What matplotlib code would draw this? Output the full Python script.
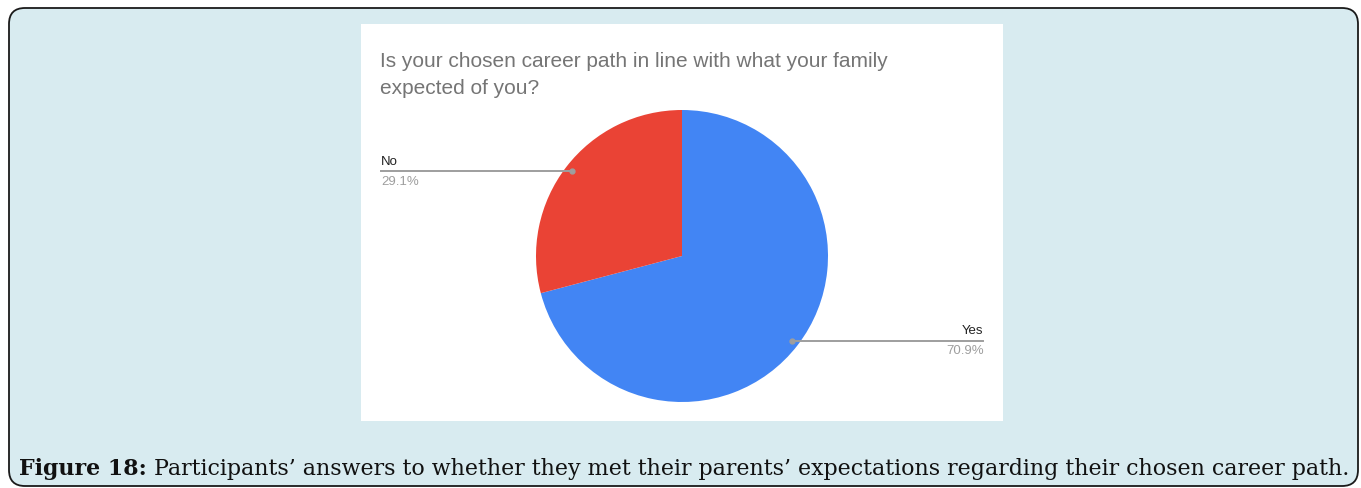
#!/usr/bin/env python
import matplotlib
matplotlib.use("Agg")
import matplotlib.pyplot as plt
import numpy as np
from matplotlib.patches import FancyBboxPatch, Rectangle

# ---- data ----
labels = ["Yes", "No"]
shares = [70.9, 29.1]
slice_colors = ["#4285f4", "#ea4335"]
title_lines = ["Is your chosen career path in line with what your family",
               "expected of you?"]
caption_head = "Figure 18:"
caption_body = " Participants\u2019 answers to whether they met their parents\u2019 expectations regarding their chosen career path."

# ---- layout (pixels) ----
W, H = 1361, 489
bg_blue = "#d8ebf0"
pie_cx, pie_cy, pie_r = 682, 257, 146

fig = plt.figure(figsize=(W / 100, H / 100), dpi=100)
fig.patch.set_facecolor("white")

# full-figure canvas in pixel units
canvas = fig.add_axes([0, 0, 1, 1])
canvas.set_xlim(0, W)
canvas.set_ylim(H, 0)
canvas.axis("off")

canvas.add_patch(FancyBboxPatch((9, 9), 1349, 478, boxstyle="round,pad=0,rounding_size=16",
                                facecolor=bg_blue, edgecolor="#1a1a1a", linewidth=1.3))
canvas.add_patch(Rectangle((361, 25), 642, 397, facecolor="white", edgecolor="none"))

for i, line in enumerate(title_lines):
    canvas.text(380, 67 + 26.5 * i, line, ha="left", va="baseline", fontsize=15,
                color="#757575", family="Liberation Sans")

head = canvas.text(19, 475, caption_head, ha="left", va="baseline", fontsize=15.9,
                   family="DejaVu Serif", fontweight="bold", color="#111111")
canvas.annotate(caption_body, xy=(1, 0), xycoords=head, ha="left", va="bottom",
                fontsize=15.9, family="DejaVu Serif", color="#111111")

# ---- pie ----
ax = fig.add_axes([(pie_cx - pie_r) / W, (H - pie_cy - pie_r) / H, 2 * pie_r / W, 2 * pie_r / H])
wedges, _ = ax.pie(shares, colors=slice_colors, startangle=90, counterclock=False,
                   wedgeprops=dict(linewidth=0))
ax.set_xlim(-1, 1)
ax.set_ylim(-1, 1)
ax.set_aspect("auto")
ax.axis("off")

# leader lines with labels
for w, lab, val in zip(wedges, labels, shares):
    mid = np.deg2rad((w.theta1 + w.theta2) / 2)
    px, py = 0.95 * np.cos(mid), 0.95 * np.sin(mid)
    side = 1 if px > 0 else -1
    end = 2.065 * side
    ax.plot([px, end], [py, py], color="#9e9e9e", lw=1.4, clip_on=False, zorder=3)
    ax.plot([px], [py], "o", color="#9e9e9e", ms=3.5, clip_on=False, zorder=4)
    ha = "right" if side > 0 else "left"
    tx = end if side > 0 else end + 0.005
    ax.text(tx, py + 0.03, lab, ha=ha, va="bottom", fontsize=9.5, color="#222222",
            family="Liberation Sans", clip_on=False)
    ax.text(tx, py - 0.025, f"{val:.1f}%", ha=ha, va="top", fontsize=9.5, color="#9e9e9e",
            family="Liberation Sans", clip_on=False)

fig.savefig("out.png", dpi=100)
